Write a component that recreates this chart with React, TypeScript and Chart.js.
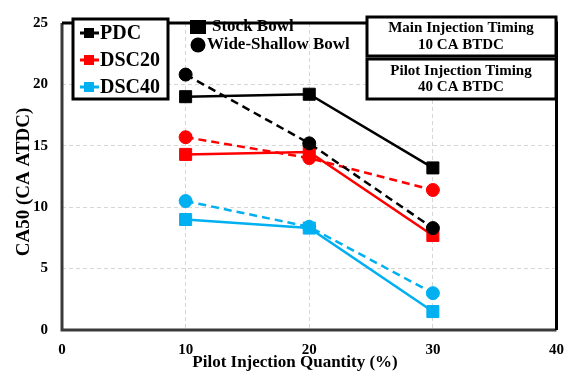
import React, { useEffect, useRef } from "react";
import { Chart, registerables } from "chart.js";

Chart.register(...registerables);

// ---- data ----
const quantities = [10, 20, 30];
const pdcStock = [19.0, 19.2, 13.2];
const pdcWide = [20.8, 15.2, 8.3];
const dsc20Stock = [14.3, 14.5, 7.7];
const dsc20Wide = [15.7, 14.0, 11.4];
const dsc40Stock = [9.0, 8.3, 1.5];
const dsc40Wide = [10.5, 8.4, 3.0];

const seriesNames = ["PDC", "DSC20", "DSC40"];
const seriesColors = ["#000000", "#FF0000", "#00B0F0"];
const bowlLabels = ["Stock Bowl", "Wide-Shallow Bowl"];
const infoBox1 = ["Main Injection Timing", "10 CA BTDC"];
const infoBox2 = ["Pilot Injection Timing", "40 CA BTDC"];
const xTitle = "Pilot Injection Quantity (%)";
const yTitle = "CA50 (CA ATDC)";
const xMin = 0, xMax = 40, xStep = 10;
const yMin = 0, yMax = 25, yStep = 5;

const FONT = '"Liberation Serif", "Times New Roman", serif';

const toPts = (vals: number[]) => quantities.map((q, i) => ({ x: q, y: vals[i] }));

function makeSet(label: string, vals: number[], color: string, wide: boolean) {
  return {
    label,
    data: toPts(vals),
    borderColor: color,
    backgroundColor: color,
    borderWidth: 2.5,
    borderDash: wide ? [8, 5] : [],
    pointStyle: wide ? "circle" : "rect",
    pointRadius: wide ? 6.5 : 8.5,
    pointBackgroundColor: color,
    pointBorderColor: color,
    pointBorderWidth: 1,
    tension: 0,
  };
}

const overlayPlugin = {
  id: "overlay",
  afterDraw(chart: any) {
    const ctx = chart.ctx as CanvasRenderingContext2D;
    const a = chart.chartArea;
    ctx.save();
    ctx.setLineDash([]);
    // frame
    ctx.lineWidth = 3;
    ctx.strokeStyle = "#3a3a3a";
    ctx.beginPath();
    ctx.moveTo(a.left, a.top);
    ctx.lineTo(a.left, a.bottom);
    ctx.lineTo(a.right, a.bottom);
    ctx.stroke();
    ctx.strokeStyle = "#000";
    ctx.beginPath();
    ctx.moveTo(a.left, a.top);
    ctx.lineTo(a.right, a.top);
    ctx.lineTo(a.right, a.bottom);
    ctx.stroke();

    // legend box
    ctx.fillStyle = "#fff";
    ctx.fillRect(73, 19, 95, 80);
    ctx.lineWidth = 3;
    ctx.strokeStyle = "#000";
    ctx.strokeRect(73, 19, 95, 80);
    const rows = [33, 60, 87];
    seriesNames.forEach((name, i) => {
      const y = rows[i];
      ctx.strokeStyle = seriesColors[i];
      ctx.lineWidth = 3;
      ctx.beginPath();
      ctx.moveTo(80, y);
      ctx.lineTo(99, y);
      ctx.stroke();
      ctx.fillStyle = seriesColors[i];
      ctx.fillRect(84, y - 5, 10, 10);
      ctx.fillStyle = "#000";
      ctx.font = `bold 20px ${FONT}`;
      ctx.textAlign = "left";
      ctx.textBaseline = "middle";
      ctx.fillText(name, 100, y + 1);
    });

    // bowl markers
    ctx.fillStyle = "#000";
    ctx.fillRect(190, 20, 16, 14);
    ctx.beginPath();
    ctx.arc(198, 45, 7.5, 0, Math.PI * 2);
    ctx.fill();
    ctx.font = `bold 17px ${FONT}`;
    ctx.textAlign = "left";
    ctx.textBaseline = "middle";
    ctx.fillText(bowlLabels[0], 212, 27);
    ctx.fillText(bowlLabels[1], 207, 45);

    // info boxes
    const boxes = [
      { y: 17, h: 39, lines: infoBox1, ty: [28, 45] },
      { y: 59, h: 40, lines: infoBox2, ty: [71, 87] },
    ];
    boxes.forEach((b) => {
      ctx.fillStyle = "#fff";
      ctx.fillRect(367, b.y, 189, b.h);
      ctx.lineWidth = 3;
      ctx.strokeStyle = "#000";
      ctx.strokeRect(367, b.y, 189, b.h);
      ctx.fillStyle = "#000";
      ctx.font = `bold 15px ${FONT}`;
      ctx.textAlign = "center";
      ctx.textBaseline = "middle";
      ctx.fillText(b.lines[0], 461, b.ty[0]);
      ctx.fillText(b.lines[1], 461, b.ty[1]);
    });

    // x title
    ctx.font = `bold 17px ${FONT}`;
    ctx.fillStyle = "#000";
    ctx.textAlign = "center";
    ctx.textBaseline = "middle";
    ctx.fillText(xTitle, 295, 363);

    // y title
    ctx.save();
    ctx.translate(24, 182);
    ctx.rotate(-Math.PI / 2);
    ctx.font = `bold 19px ${FONT}`;
    ctx.textAlign = "center";
    ctx.textBaseline = "middle";
    ctx.fillText(yTitle, 0, 0);
    ctx.restore();
    ctx.restore();
  },
};

export default function App() {
  const ref = useRef<HTMLCanvasElement | null>(null);
  useEffect(() => {
    if (!ref.current) return;
    const gridColor = (c: any) => {
      const v = c.tick ? c.tick.value : null;
      return v === xMin || v === xMax || v === yMin || v === yMax ? "rgba(0,0,0,0)" : "#d6d6d6";
    };
    const chart = new Chart(ref.current, {
      type: "line",
      data: {
        datasets: [
          makeSet("PDC Stock", pdcStock, seriesColors[0], false),
          makeSet("PDC Wide-Shallow", pdcWide, seriesColors[0], true),
          makeSet("DSC20 Stock", dsc20Stock, seriesColors[1], false),
          makeSet("DSC20 Wide-Shallow", dsc20Wide, seriesColors[1], true),
          makeSet("DSC40 Stock", dsc40Stock, seriesColors[2], false),
          makeSet("DSC40 Wide-Shallow", dsc40Wide, seriesColors[2], true),
        ] as any,
      },
      options: {
        responsive: false,
        animation: false,
        layout: { padding: { top: 14, right: 12, left: 0, bottom: 0 } },
        plugins: { legend: { display: false }, tooltip: { enabled: false } },
        scales: {
          x: {
            type: "linear",
            min: xMin,
            max: xMax,
            afterFit: (s: any) => {
              s.height = 42;
            },
            ticks: {
              stepSize: xStep,
              padding: 11,
              color: "#000",
              font: { family: FONT, weight: "bold", size: 15 },
            },
            grid: { color: gridColor, lineWidth: 1, drawTicks: false },
            border: { display: false, dash: [4, 3] },
          },
          y: {
            min: yMin,
            max: yMax,
            afterFit: (s: any) => {
              s.width = 62;
            },
            ticks: {
              stepSize: yStep,
              padding: 14,
              color: "#000",
              font: { family: FONT, weight: "bold", size: 15 },
            },
            title: { display: false, text: yTitle },
            grid: { color: gridColor, lineWidth: 1, drawTicks: false },
            border: { display: false, dash: [4, 3] },
          },
        },
      } as any,
      plugins: [overlayPlugin],
    });
    return () => chart.destroy();
  }, []);
  return (
    <div style={{ position: "absolute", left: 0, top: 0, width: 575, height: 372, background: "#fff" }}>
      <canvas ref={ref} width={575} height={372} style={{ display: "block" }} />
    </div>
  );
}
